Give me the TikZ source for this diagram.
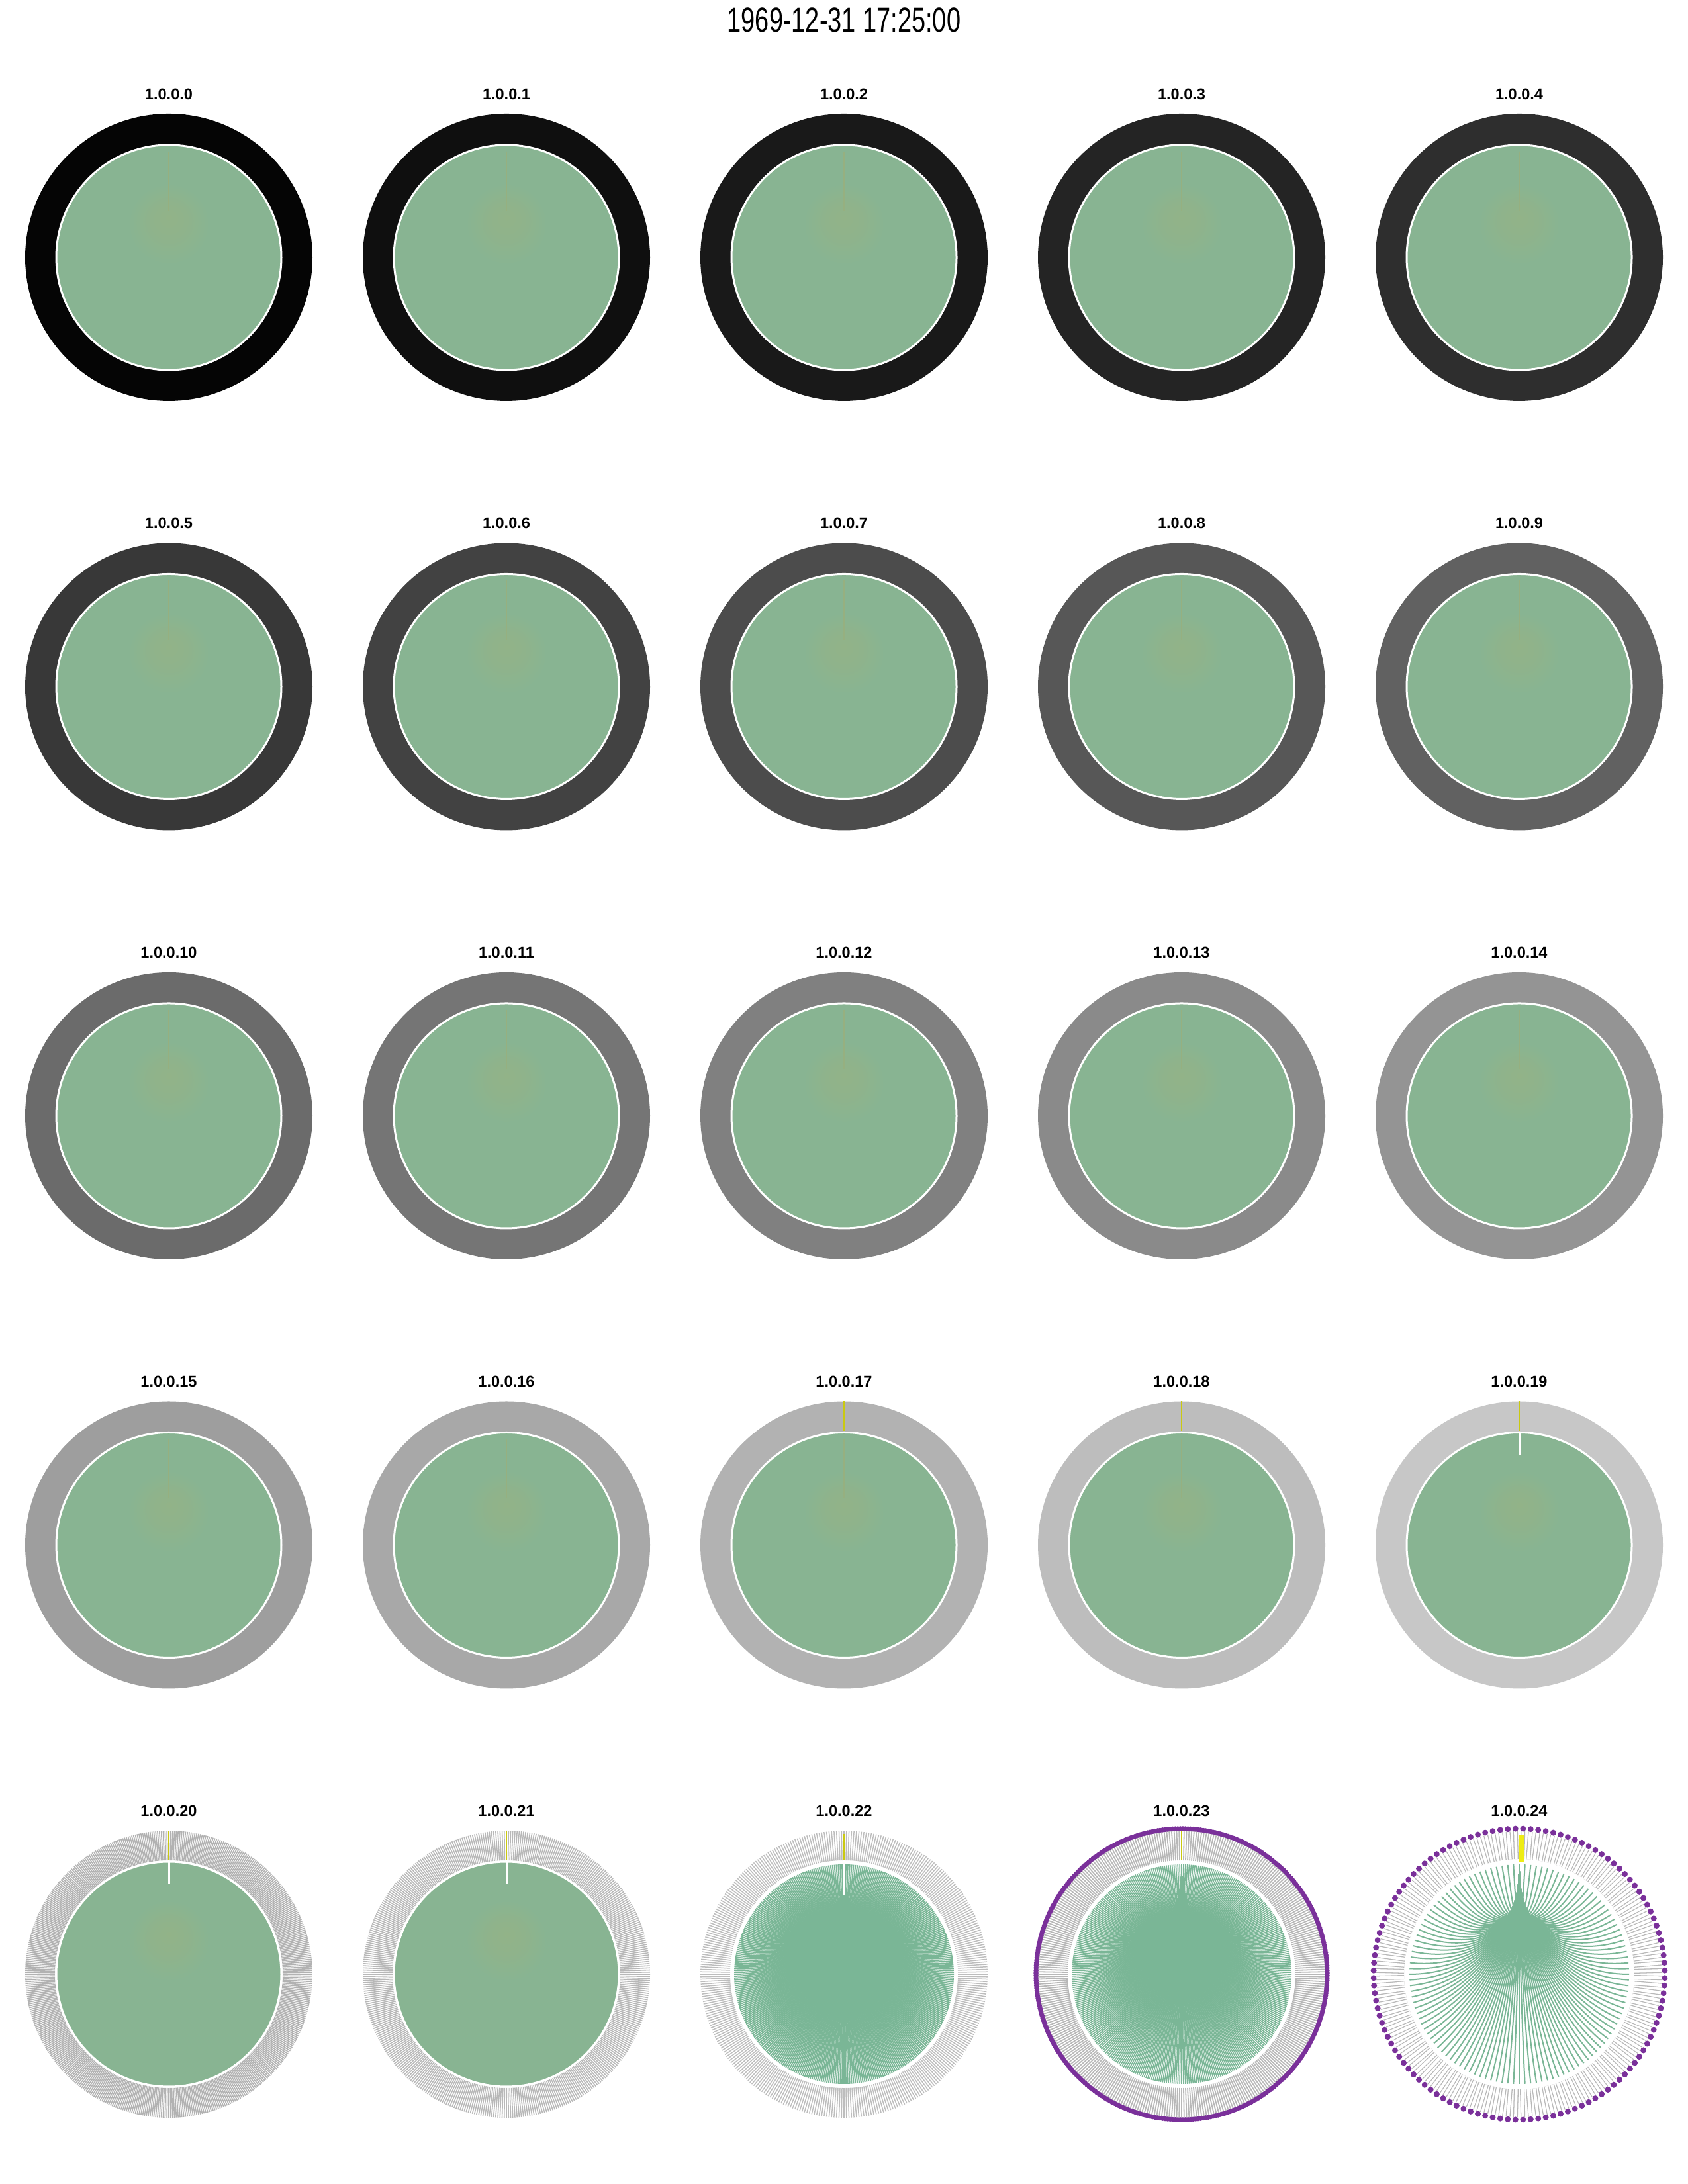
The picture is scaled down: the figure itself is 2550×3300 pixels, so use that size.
\documentclass[tikz,border=0pt]{standalone}
\usepackage{fontspec}
\setmainfont{Liberation Sans}
\usetikzlibrary{positioning}
\definecolor{discgreen}{RGB}{136,180,146}
\definecolor{blobgreen}{RGB}{146,179,136}
\definecolor{leafline}{RGB}{122,182,150}
\definecolor{spikegreen}{RGB}{150,176,128}
\definecolor{rootyellow}{RGB}{238,236,20}
\definecolor{dotpurple}{RGB}{122,48,154}
\pgfdeclareradialshading{discglow}{\pgfpoint{0bp}{9bp}}{color(0bp)=(blobgreen); color(4bp)=(blobgreen!70!discgreen); color(9bp)=(discgreen); color(50bp)=(discgreen)}
\tikzset{
  titletext/.style={font=\fontsize{15}{18}\selectfont, xscale=0.72, inner sep=0},
  paneltitle/.style={font=\bfseries\fontsize{6.7}{8}\selectfont, inner sep=0},
  ringspoke/.style={line width=#1},
  leafedge/.style={draw=leafline, line width=#1},
  whitering/.style={draw=white, line width=0.3mm},
  rootbar/.style={draw=rootyellow!85!black, line width=#1},
  leafdot/.style={fill=dotpurple}
}
\begin{document}
\begin{tikzpicture}[x=0.1mm, y=0.1mm]
\useasboundingbox (0,0) rectangle (2550,3300);
\node[titletext] (title) at (1275,3270) {1969-12-31 17:25:00};
\foreach \i in {0,...,24}{
  \pgfmathtruncatemacro{\col}{mod(\i,5)}
  \pgfmathtruncatemacro{\row}{int(\i/5)}
  \pgfmathsetmacro{\cx}{255+510*\col}
  \pgfmathsetmacro{\cy}{2911-648.5*\row}
  \coordinate (c\i) at (\cx,\cy);
  \node[paneltitle] (lbl\i) at (\cx,\cy+247) {1.0.0.\i};
  \begin{scope}[shift={(c\i)}]
    \ifnum\i<20
      \pgfmathtruncatemacro{\shadeval}{98-4*\i}
      \fill[black!\shadeval] (0,0) circle (217);
    \else
      \ifcase\numexpr\i-20\relax
        \def\nspk{480}\def\spkcol{black!30}\def\spkw{0.17mm}\or
        \def\nspk{420}\def\spkcol{black!28}\def\spkw{0.16mm}\or
        \def\nspk{360}\def\spkcol{black!26}\def\spkw{0.15mm}\or
        \def\nspk{360}\def\spkcol{black!28}\def\spkw{0.18mm}\or
        \def\nspk{120}\def\spkcol{black!28}\def\spkw{0.13mm}\fi
      \pgfmathsetmacro{\spkstep}{360/\nspk}
      \ifnum\i<24
        \foreach \k in {1,...,\nspk}{
          \pgfmathsetmacro{\ang}{90+\k*\spkstep}
          \draw[ringspoke=\spkw, draw=\spkcol] (\ang:172) -- (\ang:217);
        }
      \else
        \foreach \k in {1,...,\nspk}{
          \pgfmathsetmacro{\ang}{88.5+\k*\spkstep}
          \draw[ringspoke=\spkw, draw=\spkcol, double=white, double distance=0.45mm] (\ang:174) -- (\ang:216);
        }
      \fi
    \fi
    \ifnum\i<22
      \shade[shading=discglow] (0,0) circle (170);
      \ifnum\i<19 \draw[spikegreen, line width=0.25mm] (90:160) -- (90:70); \fi
    \else
      \ifcase\numexpr\i-22\relax
        \def\nleaf{360}\def\leafw{0.2mm}\or
        \def\nleaf{360}\def\leafw{0.17mm}\or
        \def\nleaf{120}\def\leafw{0.2mm}\fi
      \pgfmathsetmacro{\leafstep}{360/\nleaf}
      \foreach \k in {1,...,\nleaf}{
        \pgfmathsetmacro{\ang}{90+\k*\leafstep}
        \draw[leafedge=\leafw] (\ang:166) .. controls (\ang:70) and (90:65) .. (90:155);
      }
    \fi
    \draw[whitering] (0,0) circle (170);
    \ifnum\i>16
      \ifnum\i<19 \draw[rootbar=0.12mm] (90:172) -- (90:217); \fi
    \fi
    \ifnum\i>18
      \ifnum\i<22
        \draw[rootbar=0.25mm] (90:172) -- (90:217);
        \draw[white, line width=0.3mm] (90:169) -- (90:136);
      \fi
    \fi
    \ifnum\i=22
      \draw[rootbar=0.4mm] (90:172) -- (90:212);
      \draw[white, line width=0.4mm] (0.3,169) -- (0.3,120);
    \fi
    \ifnum\i=23
      \draw[rootbar=0.2mm] (90:172) -- (90:217);
      \foreach \k in {0,...,359} \fill[leafdot] (\k+0.5:220) circle (3.8);
    \fi
    \ifnum\i=24
      \draw[draw=rootyellow, line width=0.8mm] (4,170) -- (4,210);
      \foreach \k in {0,...,119} \fill[leafdot] (88.5+3*\k:220) circle (4.5);
    \fi
  \end{scope}
}
\end{tikzpicture}
\end{document}
